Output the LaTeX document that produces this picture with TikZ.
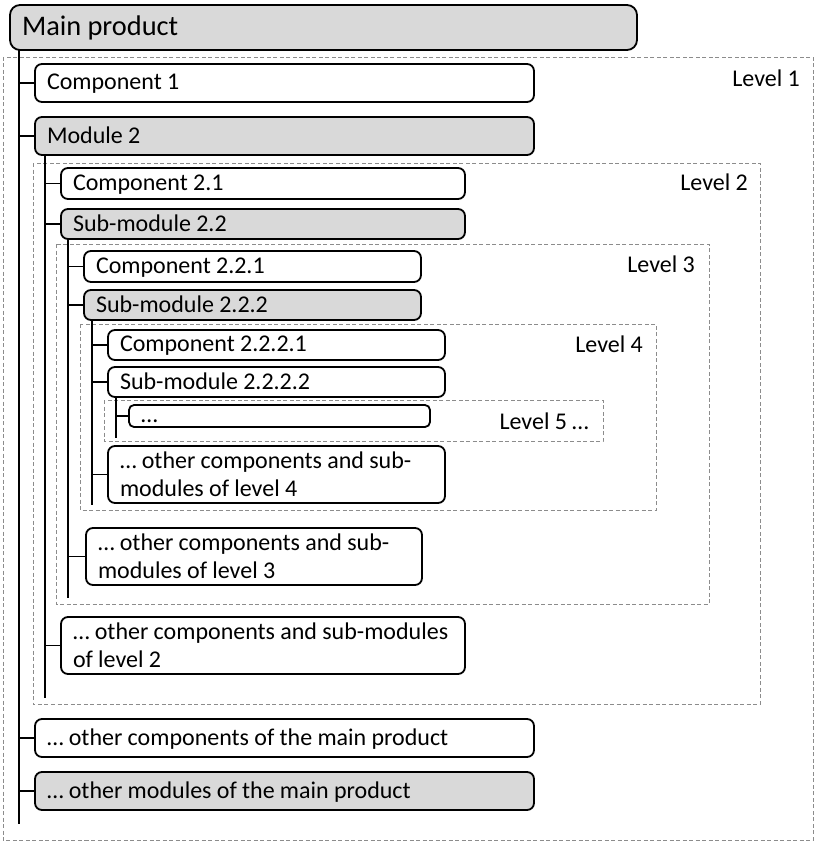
\documentclass[tikz,border=0pt]{standalone}
\usepackage{fontspec}
\setmainfont{Carlito}
\newcommand\txtfont{\fontsize{24}{28}\selectfont}
\newcommand\tightsp{\spaceskip=0.22em plus 0.05em minus 0.02em\relax}
\begin{document}
\begin{tikzpicture}[x=1pt,y=-1pt,
  frame/.style={draw=black, line width=1.8pt, rounded corners=7pt, fill=white,
    anchor=north west, inner xsep=12pt, inner ysep=0pt, outer sep=0pt,
    font=\txtfont},
  bx/.style={frame, align=left, execute at begin node=\tightsp},
  one/.style={text depth=2pt},
  gbx/.style={bx, fill=boxgray},
  lvl/.style={draw=dashgray, line width=0.9pt, dash pattern=on 4pt off 2.5pt},
  lvllab/.style={anchor=east, inner sep=0pt, font=\txtfont\tightsp},
  trunk/.style={line width=1.8pt, line cap=butt}
]
\definecolor{boxgray}{HTML}{D9D9D9}
\definecolor{dashgray}{HTML}{8C8C8C}
\useasboundingbox (0,0) rectangle (825,848);

% level frames
\draw[lvl] (3,57) rectangle (813,840);
\draw[lvl] (33,163) rectangle (760,704);
\draw[lvl] (56,244) rectangle (709,604);
\draw[lvl] (80,324) rectangle (656,510);
\draw[lvl] (104,400) rectangle (603,441);

\node[lvllab] (l1) at (800,78) {Level 1};
\node[lvllab] (l2) at (748,182) {Level 2};
\node[lvllab] (l3) at (695,264) {Level 3};
\node[lvllab] (l4) at (643,344) {Level 4};
\node[lvllab] (l5) at (589,421) {Level 5 …};

% end points of trunks
\coordinate (t1) at (19,824);
\coordinate (t2) at (45,698);
\coordinate (t3) at (68,598);
\coordinate (t4) at (92,505);
\coordinate (t5) at (116,438);

% boxes
\node[gbx, rounded corners=10pt, minimum height=45pt, text width=603pt,
  font=\fontsize{28.4}{34}\selectfont, text depth=3pt] (main) at (10,5) {Main product};
\draw[trunk] (main.south -| t1) -- (t1);

\node[bx, one, minimum height=38pt, text width=475pt] (c1) at (35,64) {Component 1};
\node[gbx, one, minimum height=38pt, text width=475pt] (m2) at (35,117) {Module 2};
\draw[trunk] (m2.south -| t2) -- (t2);

\node[bx, one, minimum height=31pt, text width=380pt] (c21) at (61,168) {Component 2.1};
\node[gbx, one, minimum height=30pt, text width=380pt] (s22) at (61,209) {Sub-module 2.2};
\draw[trunk] (s22.south -| t3) -- (t3);

\node[bx, one, minimum height=31pt, text width=313pt] (c221) at (84,251) {Component 2.2.1};
\node[gbx, one, minimum height=30pt, text width=313pt] (s222) at (84,290) {Sub-module 2.2.2};
\draw[trunk] (s222.south -| t4) -- (t4);

\node[bx, one, minimum height=30pt, text width=313pt] (c2221) at (108,330) {Component 2.2.2.1};
\node[bx, one, minimum height=30pt, text width=313pt] (s2222) at (108,367) {Sub-module 2.2.2.2};
\draw[trunk] (s2222.south -| t5) -- (t5);

\node[frame, rounded corners=5pt, minimum height=22pt, minimum width=301pt,
  text height=0pt, text depth=0pt] (dots) at (129,405)
  {\makebox[277pt][l]{\raisebox{-6pt}[0pt][0pt]{…}}};

\node[bx, minimum height=57pt, text width=313pt] (o4) at (108,446) {… other components and sub-\\modules of level 4};
\node[bx, minimum height=57pt, text width=312pt] (o3) at (86,528) {… other components and sub-\\modules of level 3};
\node[bx, minimum height=57pt, text width=380pt] (o2) at (61,617) {… other components and sub-modules\\of level 2};
\node[bx, one, minimum height=38pt, text width=475pt] (oc) at (35,719) {… other components of the main product};
\node[gbx, one, minimum height=38pt, text width=475pt] (om) at (35,772) {… other modules of the main product};

% ticks
\foreach \n in {c1,m2,oc,om} \draw[trunk] (t1 |- \n.west) -- (\n.west);
\foreach \n in {c21,s22,o2} \draw[trunk] (t2 |- \n.west) -- (\n.west);
\foreach \n in {c221,s222,o3} \draw[trunk] (t3 |- \n.west) -- (\n.west);
\foreach \n in {c2221,s2222,o4} \draw[trunk] (t4 |- \n.west) -- (\n.west);
\foreach \n in {dots} \draw[trunk] (t5 |- \n.west) -- (\n.west);
\end{tikzpicture}
\end{document}
